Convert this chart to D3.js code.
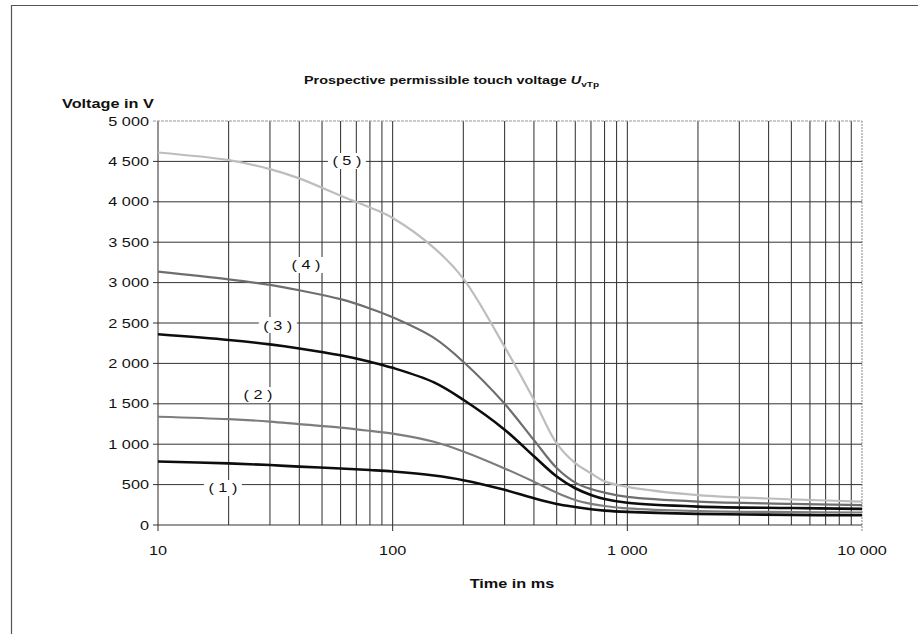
<!DOCTYPE html>
<html>
<head>
<meta charset="utf-8">
<script src="https://cdn.jsdelivr.net/npm/d3@7"></script>
<style>
  body { margin: 0; background: #fff; }
  svg { display: block; font-family: "Liberation Sans", Arial, sans-serif; }
</style>
</head>
<body>
<div id="chart"></div>
<script>
// time in ms (log axis)
const times = [10, 20, 30, 40, 60, 80, 100, 150, 200, 300, 400, 500, 600, 700, 800, 1000, 2000, 5000, 10000];

// prospective permissible touch voltage per curve, in V
const curve1 = [785, 763, 742, 722, 700, 680, 662, 612, 555, 435, 330, 260, 222, 195, 178, 162, 138, 125, 120];
const curve2 = [1340, 1310, 1280, 1248, 1205, 1165, 1130, 1030, 910, 700, 535, 400, 310, 262, 235, 205, 172, 160, 155];
const curve3 = [2360, 2290, 2235, 2185, 2100, 2020, 1945, 1765, 1550, 1180, 850, 600, 455, 372, 322, 275, 228, 210, 200];
const curve4 = [3135, 3040, 2972, 2905, 2795, 2680, 2570, 2315, 2020, 1500, 1050, 705, 525, 445, 400, 348, 290, 262, 245];
const curve5 = [4610, 4515, 4405, 4290, 4075, 3930, 3800, 3430, 3050, 2205, 1550, 1010, 765, 640, 540, 472, 370, 318, 290];

const seriesNames = ["(1)", "(2)", "(3)", "(4)", "(5)"];
// label anchor points in data units [time, voltage]
const labelPos = [[18.9, 458], [26.7, 1609], [32.4, 2475], [42.7, 3218], [63.8, 4505]];

const yTicks = [0, 500, 1000, 1500, 2000, 2500, 3000, 3500, 4000, 4500, 5000];
const xMajor = [10, 100, 1000, 10000];

const width = 918, height = 634;
const margin = {top: 121, right: 56, bottom: 109, left: 158};
const innerWidth = width - margin.left - margin.right;
const innerHeight = height - margin.top - margin.bottom;
const stretch = 1.25; // the scanned text runs wide

const svg = d3.select("#chart").append("svg")
    .attr("width", width)
    .attr("height", height);

// page frame
svg.append("path")
    .attr("d", "M11.5,634 V5.5 H918")
    .attr("fill", "none")
    .attr("stroke", "#555")
    .attr("stroke-width", 1.2);

const g = svg.append("g").attr("transform", `translate(${margin.left},${margin.top})`);

const x = d3.scaleLog().domain([10, 10000]).range([0, innerWidth]);
const y = d3.scaleLinear().domain([0, 5000]).range([innerHeight, 0]);

// text in page coordinates, widened to match the scan.
// align: "start" | "middle" | "end" (done by hand, text itself is start-anchored)
function label(px, py, txt, opts) {
    opts = opts || {};
    const t = svg.append("text")
        .attr("x", px)
        .attr("y", py)
        .attr("font-size", opts.size || 13)
        .attr("font-weight", opts.weight || "normal")
        .attr("fill", "#111")
        .text(txt);
    if (opts.build) opts.build(t);
    const w = t.node().getComputedTextLength() * stretch;
    t.attr("textLength", w).attr("lengthAdjust", "spacingAndGlyphs");
    const align = opts.align || "start";
    if (align === "middle") t.attr("x", px - w / 2);
    if (align === "end") t.attr("x", px - w);
    return t;
}

// vertical grid: every 1..9 x decade
const xGrid = [];
for (let d = 10; d < 10000; d *= 10) {
    for (let k = 1; k < 10; k++) xGrid.push(d * k);
}
g.selectAll(".vgrid")
    .data(xGrid)
    .enter().append("line")
    .attr("x1", d => x(d)).attr("x2", d => x(d))
    .attr("y1", 0)
    .attr("y2", d => xMajor.includes(d) ? innerHeight + 6 : innerHeight)
    .attr("stroke", "#2a2a2a")
    .attr("stroke-width", 1);

// right edge line, light and broken
g.append("line")
    .attr("x1", x(10000)).attr("x2", x(10000))
    .attr("y1", 0).attr("y2", innerHeight + 6)
    .attr("stroke", "#888")
    .attr("stroke-dasharray", "2,1");

// horizontal grid
g.selectAll(".hgrid")
    .data(yTicks)
    .enter().append("line")
    .attr("x1", -5)
    .attr("x2", innerWidth)
    .attr("y1", d => y(d)).attr("y2", d => y(d))
    .attr("stroke", d => d === 5000 ? "#999" : "#333")
    .attr("stroke-dasharray", d => d === 5000 ? "3,1" : null)
    .attr("stroke-width", 1);

const fmt = v => d3.format(",")(v).replace(/,/g, " ");

// y tick labels
yTicks.forEach(v => {
    label(margin.left - 9, margin.top + y(v) + 4.5, fmt(v), {align: "end"});
});

// x tick labels
xMajor.forEach(v => {
    label(margin.left + x(v), margin.top + innerHeight + 30, fmt(v), {align: "middle"});
});

// curves
const curves = [curve1, curve2, curve3, curve4, curve5];
const colors = ["#0d0d0d", "#7d7d7d", "#0d0d0d", "#6e6e6e", "#bdbdbd"];
const widths = [2.6, 2.2, 2.6, 2.2, 2.2];

const line = d3.line()
    .x(d => x(d[0]))
    .y(d => y(d[1]))
    .curve(d3.curveCatmullRom.alpha(0.5));

curves.forEach((c, i) => {
    g.append("path")
        .datum(times.map((t, j) => [t, c[j]]))
        .attr("fill", "none")
        .attr("stroke", colors[i])
        .attr("stroke-width", widths[i])
        .attr("stroke-linejoin", "round")
        .attr("d", line);
});

// curve labels with white boxes
labelPos.forEach((p, i) => {
    const cx = x(p[0]), cy = y(p[1]);
    g.append("rect")
        .attr("x", cx - 19).attr("y", cy - 8)
        .attr("width", 38).attr("height", 16)
        .attr("fill", "#fff");
    label(margin.left + cx, margin.top + cy + 4.5, seriesNames[i].split("").join(" "), {align: "middle"});
});

// titles
label(304, 84, "Prospective permissible touch voltage ", {
    weight: "bold", size: 11.5,
    build: t => {
        t.append("tspan").attr("font-style", "italic").text("U");
        t.append("tspan").attr("font-size", 8).attr("dy", 3).text("vTp");
    }
});

label(62, 108, "Voltage in V", {weight: "bold"});
label(512, 588, "Time in ms", {weight: "bold", align: "middle"});
</script>
</body>
</html>
